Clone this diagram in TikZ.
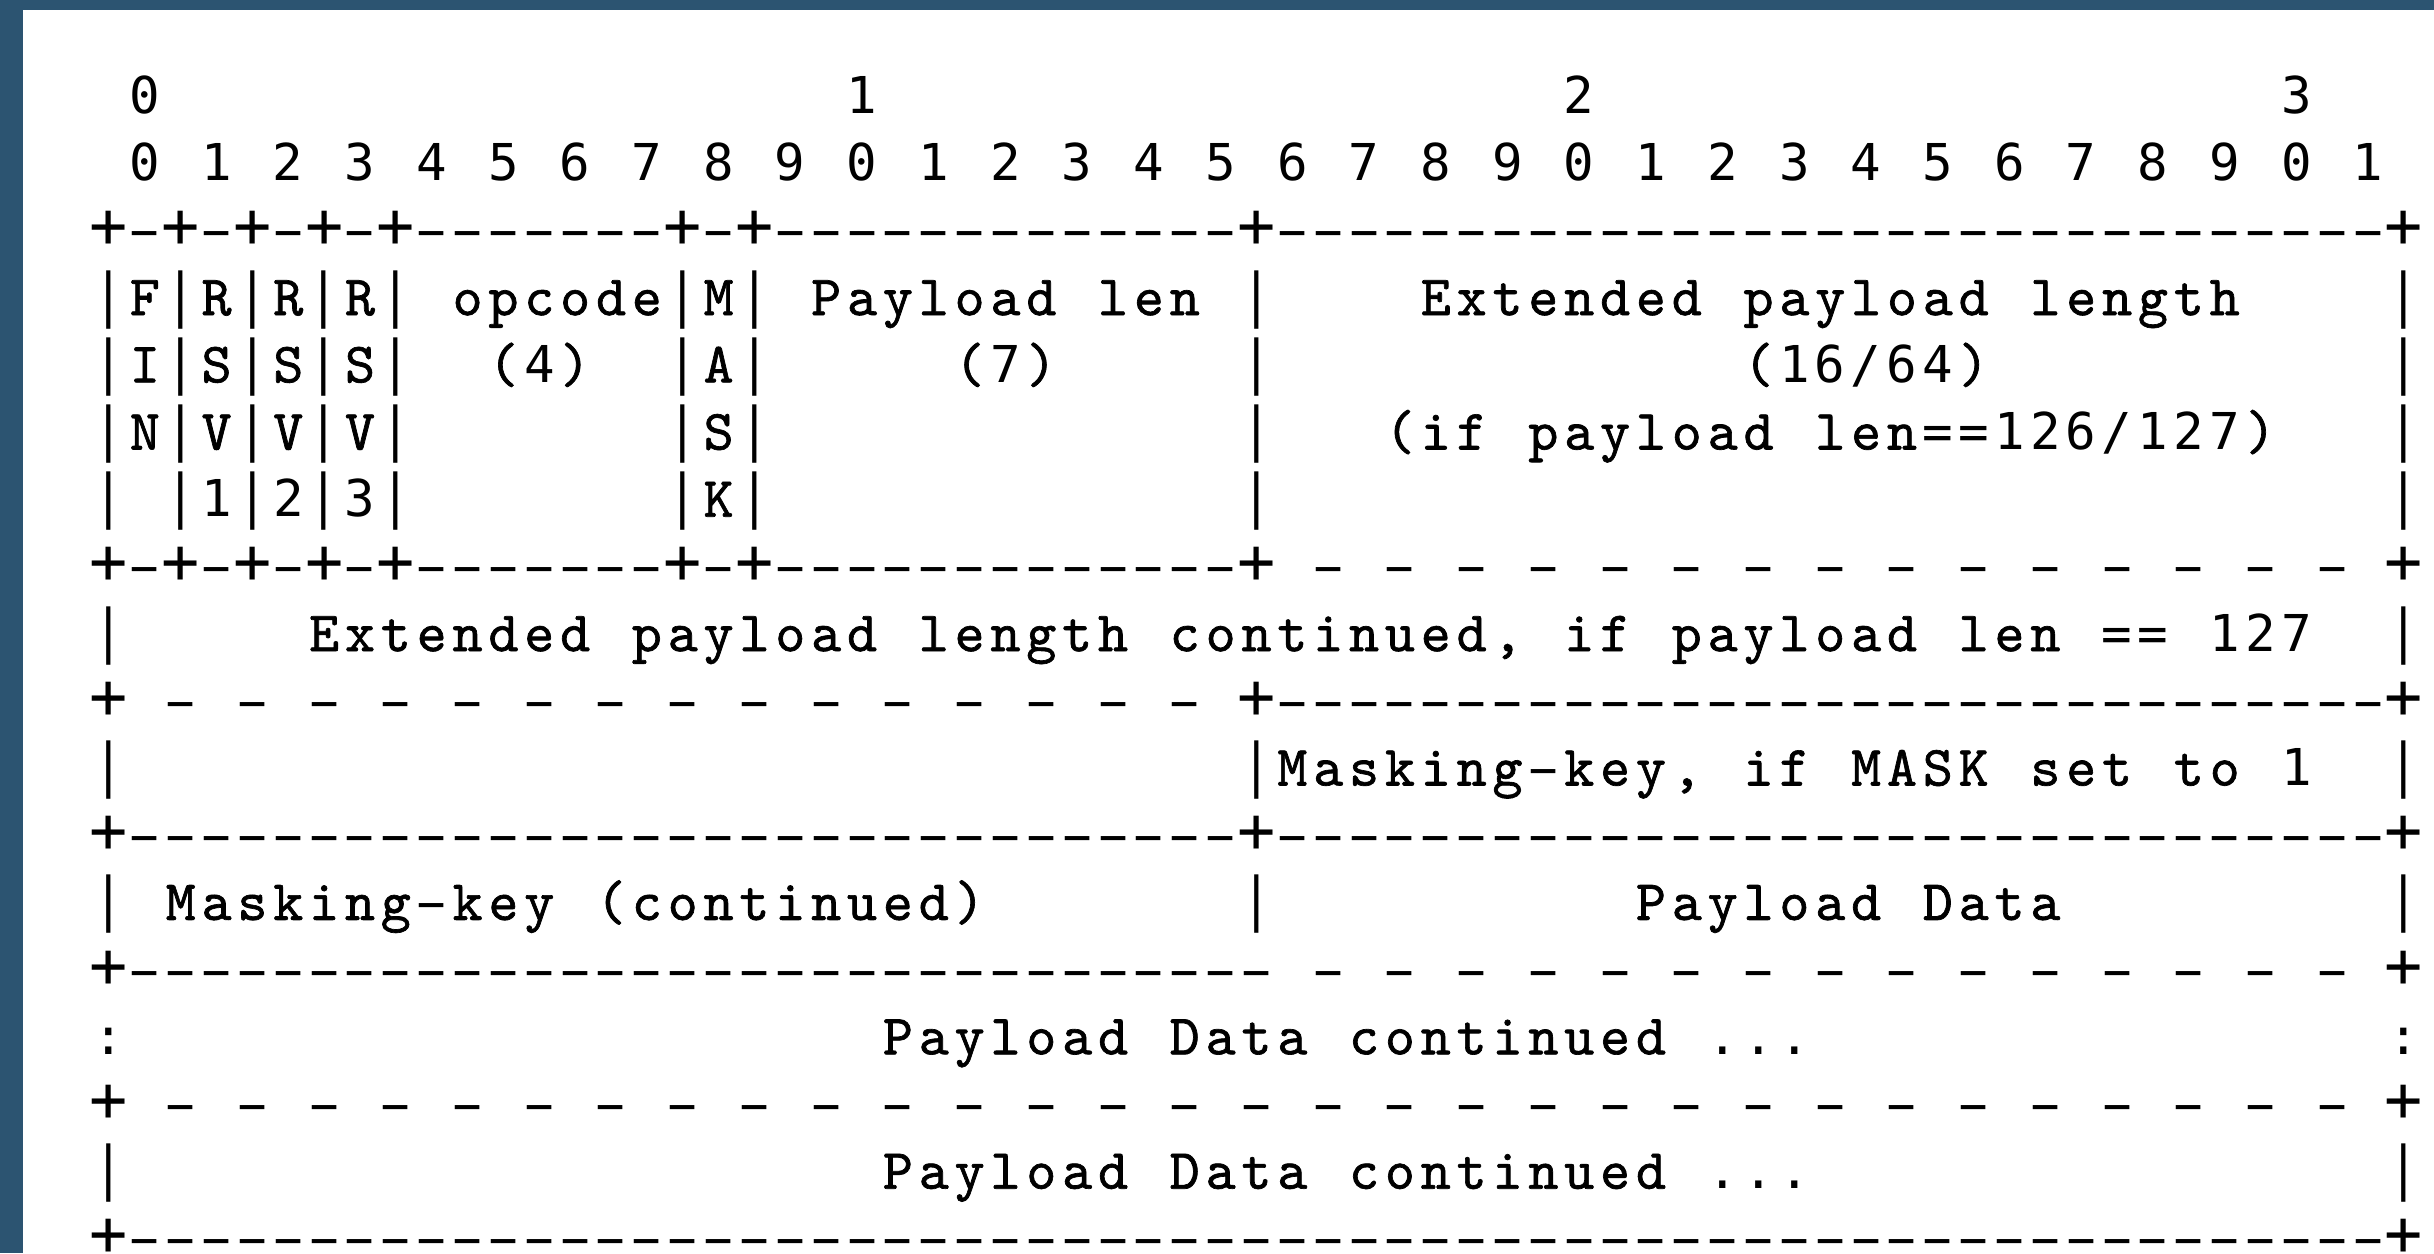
\documentclass[tikz,border=0pt]{standalone}
\usepackage{fontspec}
\usepackage{graphicx}
\newfontfamily\symfam{DejaVu Sans Mono}
\newfontfamily\letfam{lmmono10-regular}[Extension=.otf,FakeBold=1.2]
\newcommand\symf{\symfam\fontsize{25.4pt}{30pt}\selectfont}
\newcommand\letf{\letfam\fontsize{28.5pt}{30pt}\selectfont}
\definecolor{bgblue}{RGB}{44,84,113}
\ExplSyntaxOn
\dim_new:N \g_asc_cw_dim
\dim_gset:Nn \g_asc_cw_dim {17.93pt}
\cs_new_protected:Npn \asc_box:n #1 { \makebox[\g_asc_cw_dim][c]{#1} }
\cs_new_protected:Npn \asc_glyph:n #1
  {
    \str_case:nnF {#1}
      {
        { _ } { \asc_box:n { } }
        { - } { \asc_box:n { \symf \scalebox{1.9}[1]{-} } }
        { + } { \asc_box:n { \symf \scalebox{1.25}{+} } }
        { | } { \asc_box:n { \symf \scalebox{1}[1.15]{|} } }
      }
      {
        \bool_lazy_any:nTF
          {
            { \int_compare_p:n { 46 <= `#1 <= 58 } }
            { \int_compare_p:n { `#1 = 61 } }
          }
          { \asc_box:n { \symf #1 } }
          { \asc_box:n { \letf #1 } }
      }
  }
\NewDocumentCommand \asciistr { m } { \str_map_inline:nn {#1} { \asc_glyph:n {##1} } }
\NewDocumentCommand \ablank { m } { \prg_replicate:nn {#1} { \asc_box:n { } } }
\NewDocumentCommand \adash { m } { \prg_replicate:nn {#1} { \asc_glyph:n {-} } }
\NewDocumentCommand \asdash { m } { \prg_replicate:nn {#1} { \asc_box:n { } \asc_glyph:n {-} } }
\NewDocumentCommand \aplus { } { \asc_glyph:n {+} }
\ExplSyntaxOff
\tikzset{rowtext/.style={anchor=base west,inner sep=0pt,outer sep=0pt,text=black}}
\begin{document}
\begin{tikzpicture}[x=0.5pt,y=-0.5pt]
\useasboundingbox (0,0) rectangle (2434,1253);
\fill[bgblue] (0,0) rectangle (2434,1253);
\fill[white] (23,10) rectangle (2434,1253);
\node[rowtext] (r0) at (91.07,{113.5+67.2*0}) {\ablank{1}\asciistr{0}\ablank{19}\asciistr{1}\ablank{19}\asciistr{2}\ablank{19}\asciistr{3}};
\node[rowtext] (r1) at (91.07,{113.5+67.2*1}) {\ablank{1}\asciistr{0_1_2_3_4_5_6_7_8_9_0_1_2_3_4_5_6_7_8_9_0_1_2_3_4_5_6_7_8_9_0_1}};
\node[rowtext] (r2) at (91.07,{113.5+67.2*2}) {\aplus\adash{1}\aplus\adash{1}\aplus\adash{1}\aplus\adash{1}\aplus\adash{7}\aplus\adash{1}\aplus\adash{13}\aplus\adash{31}\aplus};
\node[rowtext] (r3) at (91.07,{113.5+67.2*3}) {\asciistr{|F|R|R|R|_opcode|M|_Payload_len_|}\ablank{4}\asciistr{Extended_payload_length}\ablank{4}\asciistr{|}};
\node[rowtext] (r4) at (91.07,{113.5+67.2*4}) {\asciistr{|I|S|S|S|}\ablank{2}\asciistr{(4)}\ablank{2}\asciistr{|A|}\ablank{5}\asciistr{(7)}\ablank{5}\asciistr{|}\ablank{13}\asciistr{(16/64)}\ablank{11}\asciistr{|}};
\node[rowtext] (r5) at (91.07,{113.5+67.2*5}) {\asciistr{|N|V|V|V|}\ablank{7}\asciistr{|S|}\ablank{13}\asciistr{|}\ablank{3}\asciistr{(if_payload_len==126/127)}\ablank{3}\asciistr{|}};
\node[rowtext] (r6) at (91.07,{113.5+67.2*6}) {\asciistr{|_|1|2|3|}\ablank{7}\asciistr{|K|}\ablank{13}\asciistr{|}\ablank{31}\asciistr{|}};
\node[rowtext] (r7) at (91.07,{113.5+67.2*7}) {\aplus\adash{1}\aplus\adash{1}\aplus\adash{1}\aplus\adash{1}\aplus\adash{7}\aplus\adash{1}\aplus\adash{13}\aplus\asdash{15}\ablank{1}\aplus};
\node[rowtext] (r8) at (91.07,{113.5+67.2*8}) {\asciistr{|}\ablank{5}\asciistr{Extended_payload_length_continued,_if_payload_len_==_127}\ablank{2}\asciistr{|}};
\node[rowtext] (r9) at (91.07,{113.5+67.2*9}) {\aplus\asdash{15}\ablank{1}\aplus\adash{31}\aplus};
\node[rowtext] (r10) at (91.07,{113.5+67.2*10}) {\asciistr{|}\ablank{31}\asciistr{|Masking-key,_if_MASK_set_to_1}\ablank{2}\asciistr{|}};
\node[rowtext] (r11) at (91.07,{113.5+67.2*11}) {\aplus\adash{31}\aplus\adash{31}\aplus};
\node[rowtext] (r12) at (91.07,{113.5+67.2*12}) {\asciistr{|_Masking-key_(continued)}\ablank{7}\asciistr{|}\ablank{10}\asciistr{Payload_Data}\ablank{9}\asciistr{|}};
\node[rowtext] (r13) at (91.07,{113.5+67.2*13}) {\aplus\adash{32}\asdash{15}\ablank{1}\aplus};
\node[rowtext] (r14) at (91.07,{113.5+67.2*14}) {\asciistr{:}\ablank{21}\asciistr{Payload_Data_continued_...}\ablank{16}\asciistr{:}};
\node[rowtext] (r15) at (91.07,{113.5+67.2*15}) {\aplus\asdash{31}\ablank{1}\aplus};
\node[rowtext] (r16) at (91.07,{113.5+67.2*16}) {\asciistr{|}\ablank{21}\asciistr{Payload_Data_continued_...}\ablank{16}\asciistr{|}};
\node[rowtext] (r17) at (91.07,{113.5+67.2*17}) {\aplus\adash{63}\aplus};
\end{tikzpicture}
\end{document}
